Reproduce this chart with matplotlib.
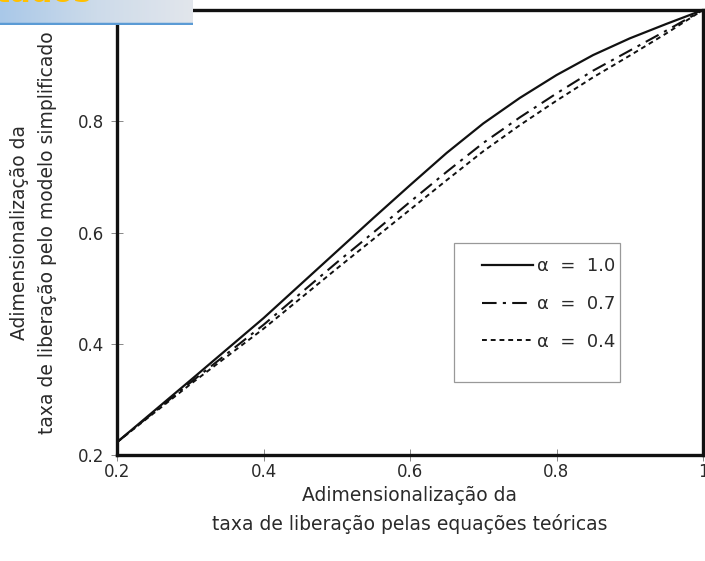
import numpy as np
import matplotlib
matplotlib.use("Agg")
import matplotlib.pyplot as plt
from matplotlib.patches import Rectangle
from matplotlib.colors import LinearSegmentedColormap

plt.rcParams['font.family'] = ['DejaVu Sans']

# Data
x = [0.2, 0.3, 0.4, 0.45, 0.5, 0.55, 0.6, 0.65, 0.7, 0.75, 0.8, 0.85, 0.9, 0.95, 1.0]
alpha_10 = [0.223, 0.334, 0.446, 0.506, 0.566, 0.626, 0.685, 0.743, 0.796, 0.842, 0.883, 0.919, 0.949, 0.975, 1.0]
alpha_07 = [0.223, 0.330, 0.434, 0.490, 0.546, 0.600, 0.655, 0.709, 0.761, 0.807, 0.850, 0.891, 0.927, 0.963, 1.0]
alpha_04 = [0.223, 0.327, 0.427, 0.481, 0.535, 0.588, 0.641, 0.694, 0.746, 0.793, 0.837, 0.879, 0.918, 0.958, 1.0]
labels = ["\u03b1  =  1.0", "\u03b1  =  0.7", "\u03b1  =  0.4"]
xticks = [0.2, 0.4, 0.6, 0.8, 1.0]
xticklabels = ["0.2", "0.4", "0.6", "0.8", "1"]
yticks = [0.2, 0.4, 0.6, 0.8]
yticklabels = ["0.2", "0.4", "0.6", "0.8"]

W, H = 705, 561
fig = plt.figure(figsize=(W / 100, H / 100), dpi=100)
fig.patch.set_facecolor('white')

ax = fig.add_axes([117 / W, 1 - 455 / H, 586 / W, 445 / H])
txtc = '#2a2a2a'
ax.plot(x, alpha_10, color='#111111', lw=1.6, ls='-', label=labels[0])
ax.plot(x, alpha_07, color='#111111', lw=1.5, ls=(0, (7, 3, 1.5, 3)), label=labels[1])
ax.plot(x, alpha_04, color='#111111', lw=1.4, ls=(0, (2.5, 2)), label=labels[2])

ax.set_xlim(0.2, 1.0)
ax.set_ylim(0.2, 1.0)
ax.set_xticks(xticks)
ax.set_xticklabels(xticklabels)
ax.set_yticks(yticks)
ax.set_yticklabels(yticklabels)
ax.tick_params(direction='inout', length=9, width=0.7, colors='#888888',
               labelcolor=txtc, labelsize=12)
ax.tick_params(axis='x', pad=1)
ax.tick_params(axis='y', pad=5)
for s in ax.spines.values():
    s.set_linewidth(2.4)
    s.set_color('#111111')

ax.set_xlabel("Adimensionalização da\ntaxa de liberação pelas equações teóricas",
              fontsize=13.5, color=txtc, linespacing=1.55, labelpad=4)
ax.set_ylabel("Adimensionalização da\ntaxa de liberação pelo modelo simplificado",
              fontsize=13.5, color=txtc, linespacing=1.55, labelpad=15)

# legend frame
ax.add_patch(Rectangle(((454 - 117) / 586, (455 - 382) / 445), (620 - 454) / 586,
                       (382 - 243) / 445, transform=ax.transAxes, fill=True,
                       facecolor='white', edgecolor='#999999', lw=0.9, zorder=4))
leg = ax.legend(loc='upper left', bbox_to_anchor=((482 - 117) / 586, (455 - 257) / 445),
                frameon=False, fontsize=13, handlelength=2.8,
                handletextpad=0.25, labelspacing=1.1, borderpad=0, borderaxespad=0)
leg.set_zorder(5)
for t in leg.get_texts():
    t.set_color(txtc)

# Banner at top-left (cut-off slide header)
bax = fig.add_axes([0, 1 - 25 / H, 193 / W, 25 / H])
grad = np.linspace(0, 1, 256).reshape(1, -1)
cmap = LinearSegmentedColormap.from_list('bn', ['#a9c8e8', '#cddbea', '#e2e6ec'])
bax.imshow(grad, aspect='auto', cmap=cmap, extent=[0, 1, 0, 1])
bax.set_xlim(0, 1)
bax.set_ylim(0, 1)
bax.axis('off')
bax.axhline(0.03, color='#5b9bd5', lw=2.5)
bax.text(92 / 193, 22.5 / 25, "Resultados", color='#ffc000', fontsize=22,
         fontweight='bold', ha='right', va='baseline', clip_on=False)

fig.savefig('out.png', dpi=100, facecolor='white')
